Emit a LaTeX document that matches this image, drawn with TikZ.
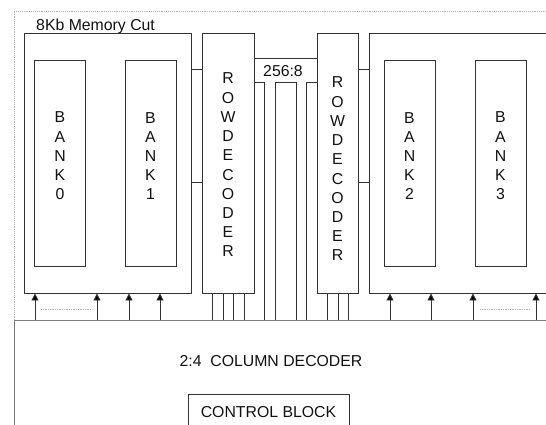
\documentclass[tikz,border=0pt]{standalone}
\usepackage{fontspec}
\setmainfont{Liberation Sans}
\usetikzlibrary{arrows.meta, positioning, calc}
\definecolor{ink}{HTML}{111111}
\definecolor{wire}{HTML}{333333}
\definecolor{edge}{HTML}{7C7C7C}
\definecolor{faint}{HTML}{B4B4B4}
\newlength\px
\setlength\px{0.03cm}
\tikzset{
  font=\fontsize{13.5}{16.4}\selectfont,
  >={Triangle[length=6pt, width=6pt]},
  %
  blk/.style={draw=wire, line width=0.8pt, inner sep=0pt, text=ink},
  bank/.style={blk, minimum width=51\px, minimum height=206\px},
  half/.style={blk, minimum height=260\px},
  rowdec/.style={blk, minimum height=260\px},
  %
  sig/.style={draw=wire, line width=0.8pt},
  up/.style={sig, -{Triangle[length=6pt, width=6pt, fill=black]}},
  gap/.style={draw=faint, line width=0.5pt, densely dotted},
  frame/.style={draw=faint, line width=0.6pt, densely dotted},
  %
  lbl/.style={inner sep=0pt, text=ink},
  vtext/.style={lbl, align=center},
}

\begin{document}
\begin{tikzpicture}[x=0.03cm, y=-0.03cm]

  \useasboundingbox (0,0) rectangle (546,425);
  \clip (0,0) rectangle (546,425);

  \draw[frame] (14,320) -- (14,11) -- (560,11);
  \node[lbl, anchor=base west] (title) at (36,30.5) {8Kb Memory Cut};

  % the two halves of the cut and their row decoders
  \node[half, minimum width=167\px] (memL) at (107.5,163) {};
  \node[half, minimum width=191\px] (memR) at (464.5,163) {};
  \node[rowdec, minimum width=52\px] (rowdecA) at (228,163) {};
  \node[rowdec, minimum width=41\px] (rowdecB) at (337.5,163) {};
  \node[vtext] (rowdecA-txt) at ([yshift=-2\px]rowdecA.center)
    {R\\O\\W\\D\\E\\C\\O\\D\\E\\R};
  \node[vtext] (rowdecB-txt) at ([yshift=-6\px]rowdecB.center)
    {R\\O\\W\\D\\E\\C\\O\\D\\E\\R};

  \foreach \i/\x in {0/60, 1/150.5, 2/409.5, 3/500.5} {
    \node[bank] (bank\i) at (\x,163) {};
    \node[vtext] (bank\i-txt) at ([yshift=7\px]bank\i.center) {B\\A\\N\\K\\\i};
  }

  \node[blk, draw=edge, minimum width=560\px, minimum height=130\px]
    (coldec) at (294,385) {};
  \node[lbl] (coldec-txt) at (271,361) {2:4~~COLUMN DECODER};
  \node[blk, minimum width=161\px, minimum height=36\px]
    (ctrl) at (268.5,412) {CONTROL BLOCK};

  % word lines between halves and decoders
  \foreach \y in {69,182} {
    \draw[sig] (memL.east |- 0,\y) -- (rowdecA.west |- 0,\y);
    \draw[sig] (rowdecB.east |- 0,\y) -- (memR.west |- 0,\y);
  }

  % 256:8 routing
  \node[lbl] (mux) at (283,71) {256:8};
  \draw[sig] (rowdecA.east |- 0,58) -- (rowdecB.west |- 0,58);
  \draw[sig] (rowdecA.east |- 0,82) -- (264,82) -- (264,0 |- coldec.north);
  \draw[sig] (275,0 |- coldec.north) -- (275,82) -- (296,82)
    -- (296,0 |- coldec.north);
  \draw[sig] (306,0 |- coldec.north) -- (306,82) -- (rowdecB.west |- 0,82);

  \foreach \x in {212,223,233,244}
    \draw[sig] (\x,0 |- rowdecA.south) -- (\x,0 |- coldec.north);
  \foreach \x in {327,338,348}
    \draw[sig] (\x,0 |- rowdecB.south) -- (\x,0 |- coldec.north);

  % column select into the banks
  \foreach \x in {35,97,129,160}
    \draw[up] (\x,0 |- coldec.north) -- (\x,0 |- memL.south);
  \foreach \x in {390,431,473,536}
    \draw[up] (\x,0 |- coldec.north) -- (\x,0 |- memR.south);
  \draw[gap] (41,309) -- (91,309);
  \draw[gap] (480,309) -- (530,309);

\end{tikzpicture}
\end{document}
